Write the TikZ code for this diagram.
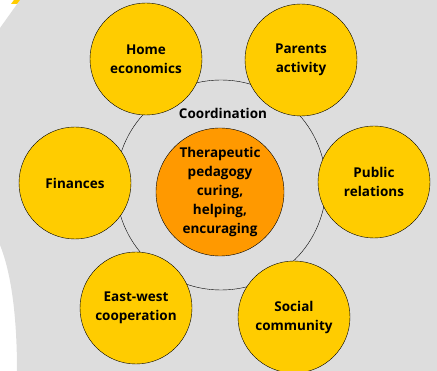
\documentclass[tikz,border=0pt]{standalone}
\usepackage{fontspec}
\setsansfont{Open Sans}
\usetikzlibrary{positioning}
\definecolor{ppyellow}{RGB}{255,204,0}
\definecolor{pporange}{RGB}{255,153,0}
\definecolor{ppgray}{RGB}{221,221,221}

\tikzset{
  topic/.style={circle, draw=black, fill=ppyellow, minimum size=112pt, inner sep=0pt,
    align=center, font=\sffamily\bfseries\fontsize{13.5}{19}\selectfont},
  core/.style={circle, draw=black, fill=pporange, minimum size=128pt, inner sep=0pt,
    align=center, font=\sffamily\bfseries\fontsize{13.5}{19}\selectfont},
}

\begin{document}
\begin{tikzpicture}[x=1pt, y=-1pt]
  \useasboundingbox (0,0) rectangle (437,371);
  \clip (0,0) rectangle (437,371);
  % backdrop
  \fill[ppgray] (20,0) -- (437,0) -- (437,371) -- (17,371)
    .. controls (17,320) and (12,275) .. (0,245) -- (0,28) -- cycle;
  \fill[ppyellow] (14,0) -- (20,0) -- (17,4) -- (11,4) -- cycle;
  % ring
  \node[circle, draw=black, thin, minimum size=210pt, inner sep=0pt] (ring) at (221,185) {};
  \node[core] (therapy) at (220,192) {Therapeutic\\pedagogy\\curing,\\helping,\\encuraging};
  \node[font=\sffamily\bfseries\fontsize{13.5}{15}\selectfont] (coord) at (223,113) {Coordination};
  % topics
  \node[topic] (home) at (146,59) {Home\\economics};
  \node[topic] (parents) at (301,60) {Parents\\activity};
  \node[topic] (public) at (374,182) {Public\\relations};
  \node[topic] (finances) at (75,183) {Finances};
  \node[topic] (eastwest) at (136,308) {East-west\\cooperation};
  \node[topic] (social) at (294,317) {Social\\community};
\end{tikzpicture}
\end{document}
